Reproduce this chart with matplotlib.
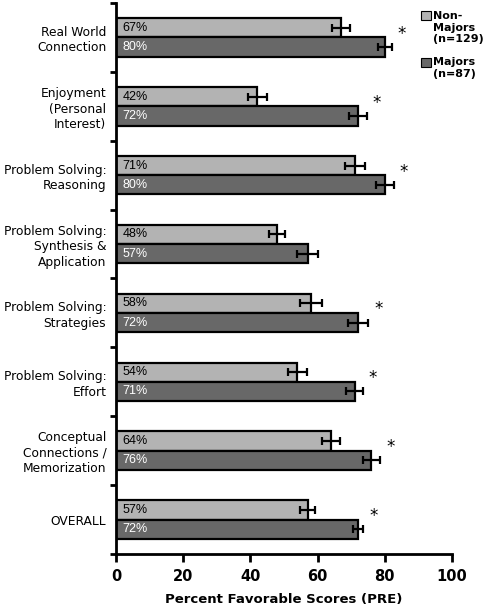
import matplotlib
matplotlib.use('Agg')
import matplotlib.pyplot as plt
import numpy as np
from matplotlib.patches import Rectangle

categories = ['Real World\nConnection', 'Enjoyment\n(Personal\nInterest)',
              'Problem Solving:\nReasoning', 'Problem Solving:\nSynthesis &\nApplication',
              'Problem Solving:\nStrategies', 'Problem Solving:\nEffort',
              'Conceptual\nConnections /\nMemorization', 'OVERALL']
non_majors = [67, 42, 71, 48, 58, 54, 64, 57]
non_majors_err = [2.6, 2.8, 3.0, 2.4, 3.2, 2.8, 2.6, 2.1]
majors = [80, 72, 80, 57, 72, 71, 76, 72]
majors_err = [2.0, 2.7, 2.7, 3.0, 3.1, 2.5, 2.6, 1.6]
significant = [True, True, True, False, True, True, True, True]
x_ticks = [0, 20, 40, 60, 80, 100]

light = '#b3b3b3'
dark = '#686868'

fig = plt.figure(figsize=(4.87, 6.08), dpi=100)
ax = fig.add_axes([0.2382, 0.0888, 0.690, 0.9063])

y = np.arange(len(categories))
h = 0.28
err_kw = dict(ecolor='black', elinewidth=1.6, capsize=3, capthick=1.6)
ax.barh(y - h / 2, non_majors, height=h, color=light, edgecolor='black', linewidth=1.6,
        xerr=non_majors_err, error_kw=err_kw)
ax.barh(y + h / 2, majors, height=h, color=dark, edgecolor='black', linewidth=1.6,
        xerr=majors_err, error_kw=err_kw)

for i in range(len(categories)):
    ax.text(2, y[i] - h / 2, f'{non_majors[i]}%', va='center', ha='left',
            fontsize=9, family='Liberation Sans', color='black')
    ax.text(2, y[i] + h / 2, f'{majors[i]}%', va='center', ha='left',
            fontsize=9, family='Liberation Sans', color='white')
    if significant[i]:
        ax.text(majors[i] + majors_err[i] + 3, y[i] - 0.05, '*', va='center', ha='center',
                fontsize=12, color='black')

ax.set_xlim(0, 100)
ax.set_ylim(len(categories) - 0.5, -0.5)
ax.set_xticks(x_ticks)
ax.set_xticklabels([str(t) for t in x_ticks], fontsize=10.5, fontweight='bold')
ax.set_yticks(y)
ax.set_yticklabels(categories, fontsize=8.8, linespacing=1.25)
ax.set_yticks(np.arange(len(categories) + 1) - 0.5, minor=True)
ax.tick_params(axis='y', which='major', length=0, pad=7)
ax.tick_params(axis='y', which='minor', length=4, width=2, direction='out')
ax.tick_params(axis='x', length=6, width=2, direction='out', pad=5)
ax.set_xlabel('Percent Favorable Scores (PRE)', fontsize=9.5, fontweight='bold', labelpad=6)

for s in ['top', 'right']:
    ax.spines[s].set_visible(False)
for s in ['left', 'bottom']:
    ax.spines[s].set_linewidth(2)

# legend drawn by hand so the squares sit on the first text line
fig.patches.append(Rectangle((0.8655, 0.9663), 0.0185, 0.0148, transform=fig.transFigure,
                             facecolor=light, edgecolor='black', linewidth=0.8))
fig.text(0.889, 0.982, 'Non-\nMajors\n(n=129)', fontsize=8, fontweight='bold',
         va='top', ha='left', linespacing=1.2)
fig.patches.append(Rectangle((0.8655, 0.8906), 0.0185, 0.0148, transform=fig.transFigure,
                             facecolor=dark, edgecolor='black', linewidth=0.8))
fig.text(0.889, 0.906, 'Majors\n(n=87)', fontsize=8, fontweight='bold',
         va='top', ha='left', linespacing=1.2)

fig.savefig('out.png', dpi=100)
